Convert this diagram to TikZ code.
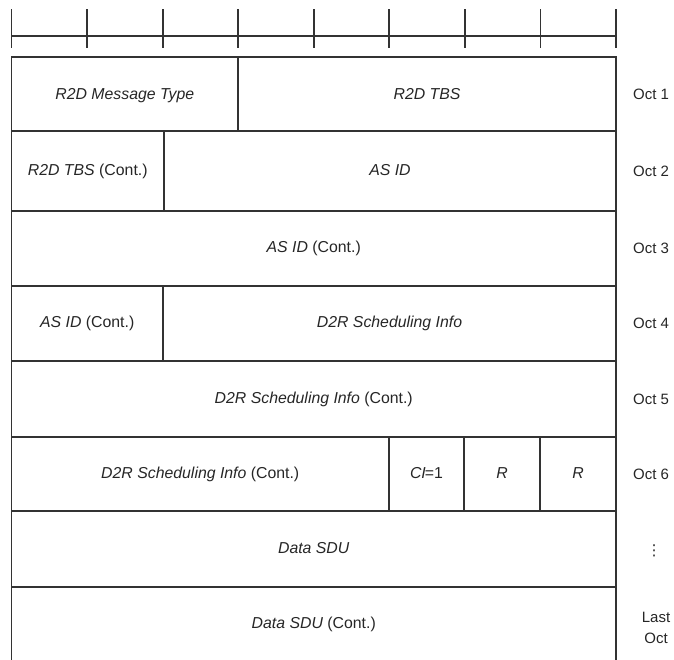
\documentclass[tikz,border=0pt]{standalone}
\usepackage{fontspec}
\setmainfont{Liberation Sans}
\newfontfamily\symfont{DejaVu Sans}
\usetikzlibrary{calc}

\begin{document}
\begin{tikzpicture}[x=0.6pt,y=-0.6pt,line join=miter,
  cell/.style={draw=black!80,line width=1.1pt},
  fld/.style={font=\fontsize{9.5}{11}\selectfont,text=black!85,inner sep=1pt,
    text height=7pt,text depth=2pt},
  oct/.style={font=\fontsize{9}{12.6}\selectfont,text=black!85,align=center,inner sep=1pt}]
  \useasboundingbox (0,0) rectangle (674,660);
  % bit ruler
  \coordinate (RL) at (11.5,36);
  \coordinate (RR) at (616,36);
  \draw[cell] (RL) -- (RR);
  \foreach \i in {0,...,8}
    \draw[cell] ({11.5+\i*75.5625},9.5) -- ({11.5+\i*75.5625},48.5);
  % octet 1
  \draw[cell] (11.5,57) rectangle (238,131);
  \draw[cell] (238,57) rectangle (616,131);
  \node[fld] (msgtype) at (124.75,95) {\textit{R2D Message Type}};
  \node[fld] (tbs) at (427,95) {\textit{R2D TBS}};
  % octet 2
  \draw[cell] (11.5,131) rectangle (164,211);
  \draw[cell] (164,131) rectangle (616,211);
  \node[fld] (tbscont) at (87.75,171) {\textit{R2D TBS} (Cont.)};
  \node[fld] (asid) at (390,171) {\textit{AS ID}};
  % octet 3
  \draw[cell] (11.5,211) rectangle (616,286);
  \node[fld] (asidcont) at (313.75,248.5) {\textit{AS ID} (Cont.)};
  % octet 4
  \draw[cell] (11.5,286) rectangle (163,361);
  \draw[cell] (163,286) rectangle (616,361);
  \node[fld] (asidcontb) at (87.25,323.5) {\textit{AS ID} (Cont.)};
  \node[fld] (sched) at (389.5,323.5) {\textit{D2R Scheduling Info}};
  % octet 5
  \draw[cell] (11.5,361) rectangle (616,437);
  \node[fld] (schedcont) at (313.75,399) {\textit{D2R Scheduling Info} (Cont.)};
  % octet 6
  \draw[cell] (11.5,437) rectangle (389,511);
  \draw[cell] (389,437) rectangle (464,511);
  \draw[cell] (464,437) rectangle (540,511);
  \draw[cell] (540,437) rectangle (616,511);
  \node[fld] (schedcontb) at (200.25,474) {\textit{D2R Scheduling Info} (Cont.)};
  \node[fld] (ci) at (426.5,474) {\textit{CI}\kern-0.6pt=1};
  \node[fld] (ra) at (502,474) {\textit{R}};
  \node[fld] (rb) at (578,474) {\textit{R}};
  % data
  \draw[cell] (11.5,511) rectangle (616,587);
  \node[fld] (sdu) at (313.75,549) {\textit{Data SDU}};
  \draw[cell] (11.5,662) -- (11.5,587) -- (616,587) -- (616,662);
  \node[fld] (sducont) at (313.75,624) {\textit{Data SDU} (Cont.)};
  % octet labels
  \node[oct] (oct1) at (651,94) {Oct 1};
  \node[oct] (oct2) at (651,171) {Oct 2};
  \node[oct] (oct3) at (651,248.5) {Oct 3};
  \node[oct] (oct4) at (651,323.5) {Oct 4};
  \node[oct] (oct5) at (651,399) {Oct 5};
  \node[oct] (oct6) at (651,474) {Oct 6};
  \node[oct,font=\symfont\fontsize{9}{10}\selectfont] (octdots) at (654,551) {⋮};
  \node[oct] (octlast) at (656,627.5) {Last\\Oct};
\end{tikzpicture}
\end{document}
